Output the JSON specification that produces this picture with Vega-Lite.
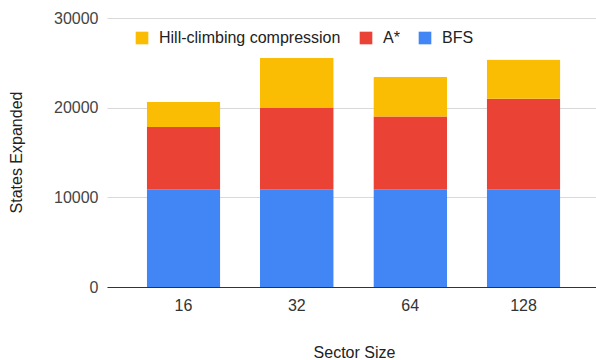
{
  "$schema": "https://vega.github.io/schema/vega-lite/v6.json",
  "width": 493,
  "height": 269,
  "autosize": {"type": "none"},
  "padding": {"left": 107, "top": 18, "right": 0, "bottom": 73},
  "background": "white",
  "config": {
    "view": {"stroke": null},
    "font": "Liberation Sans"
  },
  "data": {
    "values": [
      {"size": "16", "method": "BFS", "states": 10900},
      {"size": "16", "method": "A*", "states": 6940},
      {"size": "16", "method": "Hill-climbing compression", "states": 2780},
      {"size": "32", "method": "BFS", "states": 10900},
      {"size": "32", "method": "A*", "states": 9050},
      {"size": "32", "method": "Hill-climbing compression", "states": 5610},
      {"size": "64", "method": "BFS", "states": 10900},
      {"size": "64", "method": "A*", "states": 8120},
      {"size": "64", "method": "Hill-climbing compression", "states": 4430},
      {"size": "128", "method": "BFS", "states": 10900},
      {"size": "128", "method": "A*", "states": 10090},
      {"size": "128", "method": "Hill-climbing compression", "states": 4370}
    ]
  },
  "transform": [
    {"calculate": "indexof(['BFS', 'A*', 'Hill-climbing compression'], datum.method)", "as": "stackOrder"}
  ],
  "mark": {"type": "bar", "cornerRadiusEnd": 1},
  "encoding": {
    "x": {
      "field": "size",
      "type": "ordinal",
      "sort": ["16", "32", "64", "128"],
      "scale": {"paddingInner": 0.35, "paddingOuter": 0.35},
      "axis": {
        "title": "Sector Size",
        "titleFont": "Liberation Sans",
        "titleFontSize": 16,
        "titleFontWeight": "normal",
        "titleColor": "#222222",
        "titleX": 247,
        "titleY": 70,
        "titleBaseline": "alphabetic",
        "labelAngle": 0,
        "labelFontSize": 16,
        "labelColor": "#333333",
        "labelPadding": 10,
        "ticks": false,
        "domainColor": "#333333",
        "domainWidth": 1
      }
    },
    "y": {
      "field": "states",
      "type": "quantitative",
      "stack": "zero",
      "scale": {"domain": [0, 30000]},
      "axis": {
        "title": "States Expanded",
        "titleFontSize": 16,
        "titleFontWeight": "normal",
        "titleColor": "#222222",
        "titleX": -91,
        "titleY": 134,
        "titleAngle": -90,
        "titleAlign": "center",
        "titleBaseline": "middle",
        "values": [0, 10000, 20000, 30000],
        "format": "d",
        "labelFontSize": 16,
        "labelColor": "#444444",
        "labelPadding": 9,
        "ticks": false,
        "domain": false,
        "gridColor": "#d9d9d9",
        "gridWidth": 1
      }
    },
    "order": {"field": "stackOrder", "type": "quantitative", "sort": "ascending"},
    "color": {
      "field": "method",
      "type": "nominal",
      "scale": {
        "domain": ["Hill-climbing compression", "A*", "BFS"],
        "range": ["#FBBC04", "#EA4335", "#4285F4"]
      },
      "legend": {
        "title": null,
        "orient": "none",
        "direction": "horizontal",
        "legendX": 27,
        "legendY": 12,
        "values": ["Hill-climbing compression", "A*", "BFS"],
        "symbolType": "square",
        "symbolSize": 160,
        "symbolStrokeWidth": 0,
        "labelFontSize": 16,
        "labelLimit": 400,
        "labelColor": "#222222",
        "labelOffset": 9,
        "columnPadding": 17
      }
    }
  }
}
